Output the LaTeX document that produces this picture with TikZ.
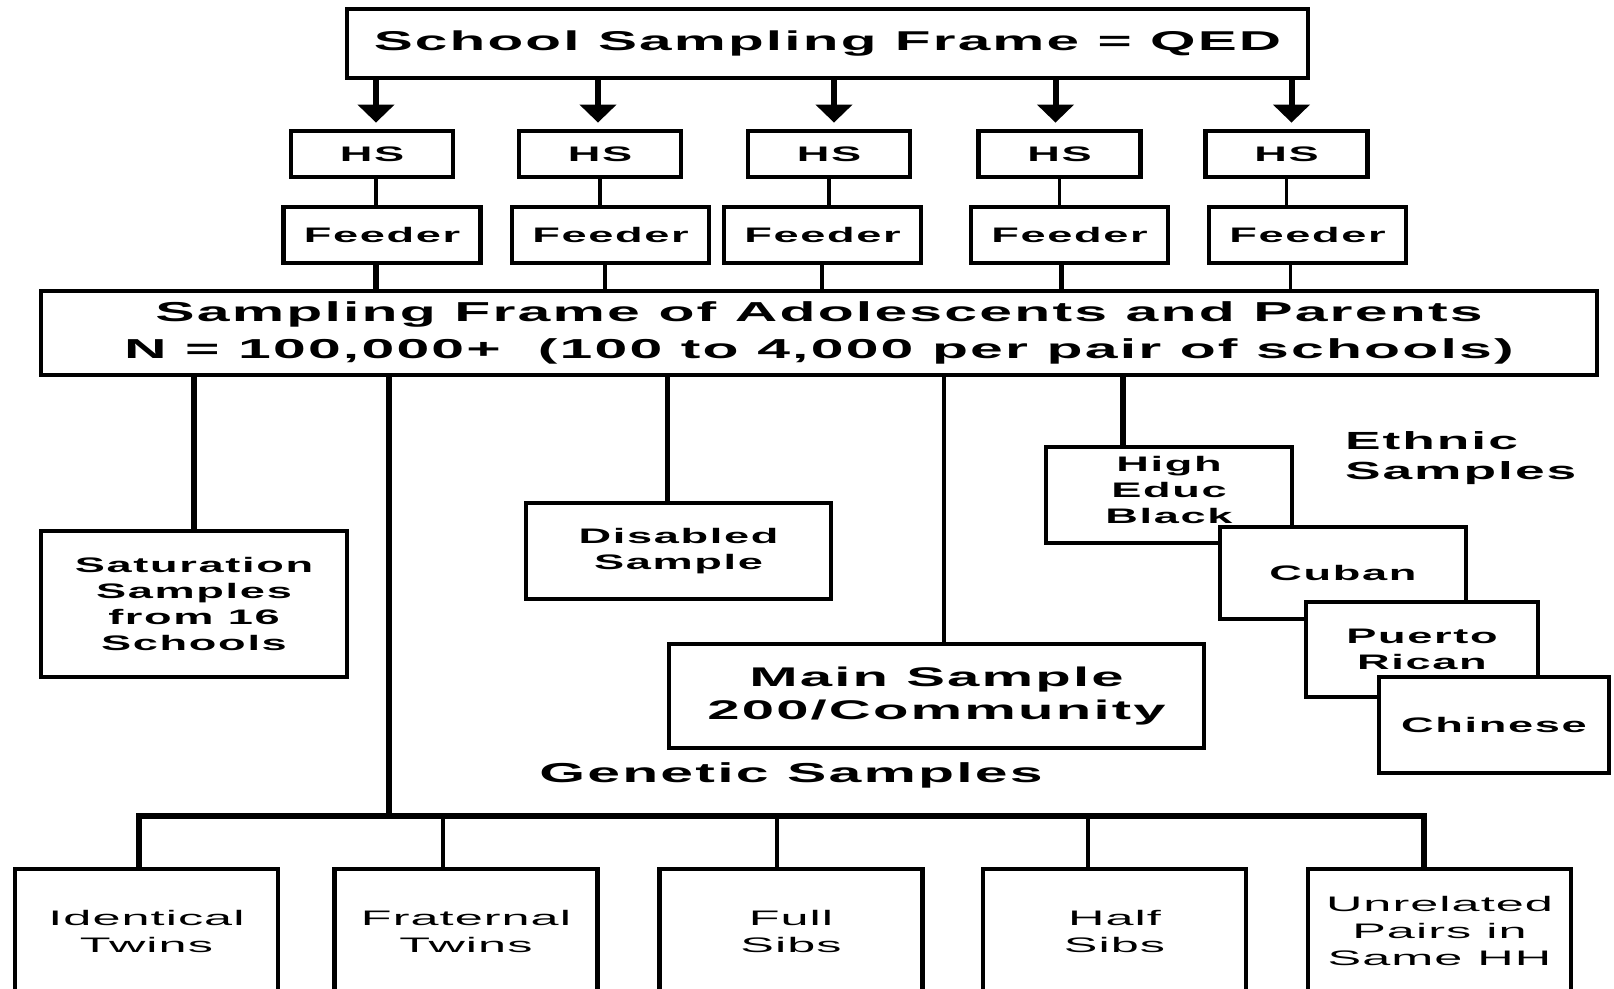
\documentclass[tikz,border=0pt]{standalone}
\usepackage{fontspec}
\newfontfamily\widefont{Liberation Sans}[FakeStretch=2.15,LetterSpace=8]
\newfontfamily\flatfont{Liberation Sans}[FakeStretch=2.4,LetterSpace=5]
\usetikzlibrary{arrows.meta}

\begin{document}
\begin{tikzpicture}[x=0.5pt,y=-0.5pt,
  box/.style={draw,line width=2.4pt,fill=white,inner sep=0pt,align=center,
    font=\widefont\bfseries\fontsize{10.5}{13}\selectfont},
  head/.style={font=\widefont\bfseries\fontsize{13.6}{18}\selectfont},
  big/.style={font=\widefont\bfseries\fontsize{13.7}{18.5}\selectfont},
  twin/.style={box,minimum width=131.5pt,minimum height=62pt,
    font=\flatfont\fontsize{10.5}{13.5}\selectfont},
  link/.style={line width=2.6pt},
  thinlink/.style={line width=1.8pt},
  feed/.style={-{Triangle[width=18pt,length=9pt]},line width=3pt,shorten >=3pt}]
\clip (0,0) rectangle (1614,989);
\fill[white] (0,0) rectangle (1614,989);

\node[box,head,minimum width=480.5pt,minimum height=34.5pt] (top) at (827.5,43.5) {School Sampling Frame = QED};

\node[box,minimum width=81pt,minimum height=23pt] (hs1) at (372,154) {HS};
\node[box,minimum width=81pt,minimum height=23pt] (hs2) at (600,154) {HS};
\node[box,minimum width=81pt,minimum height=23pt] (hs3) at (829,154) {HS};
\node[box,minimum width=81pt,minimum height=23pt] (hs4) at (1059.5,154) {HS};
\node[box,minimum width=81pt,minimum height=23pt] (hs5) at (1286.5,154) {HS};

\node[box,minimum width=98.5pt,minimum height=28pt] (fd1) at (382,235) {Feeder};
\node[box,minimum width=98.5pt,minimum height=28pt] (fd2) at (610.5,235) {Feeder};
\node[box,minimum width=98.5pt,minimum height=28pt] (fd3) at (822.5,235) {Feeder};
\node[box,minimum width=98.5pt,minimum height=28pt] (fd4) at (1069.5,235) {Feeder};
\node[box,minimum width=98.5pt,minimum height=28pt] (fd5) at (1307.5,235) {Feeder};

\node[box,big,minimum width=778pt,minimum height=42pt] (frame) at (819,333)
  {Sampling Frame of Adolescents and Parents\\N = 100,000+\ \ (100 to 4,000 per pair of schools)};

\draw[feed] ([xshift=2pt]hs1.north |- top.south) -- ([xshift=2pt]hs1.north);
\draw[feed] ([xshift=-1pt]hs2.north |- top.south) -- ([xshift=-1pt]hs2.north);
\draw[feed] ([xshift=2.5pt]hs3.north |- top.south) -- ([xshift=2.5pt]hs3.north);
\draw[feed] ([xshift=-2pt]hs4.north |- top.south) -- ([xshift=-2pt]hs4.north);
\draw[feed] ([xshift=2.5pt]hs5.north |- top.south) -- ([xshift=2.5pt]hs5.north);

\draw[thinlink] ([xshift=2pt]hs1.south) -- ([xshift=2pt]hs1.south |- fd1.north);
\draw[thinlink] (hs2.south) -- (hs2.south |- fd2.north);
\draw[thinlink] (hs3.south) -- (hs3.south |- fd3.north);
\draw[thinlink] (hs4.south) -- (hs4.south |- fd4.north);
\draw[thinlink] (hs5.south) -- (hs5.south |- fd5.north);

\draw[link] ([xshift=2pt]hs1.south |- fd1.south) -- ([xshift=2pt]hs1.south |- frame.north);
\draw[thinlink] ([xshift=2.5pt]hs2.south |- fd2.south) -- ([xshift=2.5pt]hs2.south |- frame.north);
\draw[thinlink] ([xshift=-3.5pt]hs3.south |- fd3.south) -- ([xshift=-3.5pt]hs3.south |- frame.north);
\draw[link] ([xshift=1pt]hs4.south |- fd4.south) -- ([xshift=1pt]hs4.south |- frame.north);
\draw[thinlink] ([xshift=2pt]hs5.south |- fd5.south) -- ([xshift=2pt]hs5.south |- frame.north);

\node[box,minimum width=153pt,minimum height=73pt] (sat) at (194,604) {Saturation\\Samples\\from 16\\Schools};
\node[box,minimum width=152.5pt,minimum height=48pt] (dis) at (678.5,551) {Disabled\\Sample};
\node[box,big,minimum width=267.5pt,minimum height=52pt,font=\widefont\bfseries\fontsize{13.5}{16.5}\selectfont] (main) at (936.5,696) {Main Sample\\200/Community};

\node[box,minimum width=123pt,minimum height=48pt] (high) at (1169,495) {High\\Educ\\Black\\[-8pt]};
\node[box,minimum width=123pt,minimum height=46pt] (cuban) at (1343,573) {Cuban};
\node[box,minimum width=116pt,minimum height=47.5pt] (pr) at (1422,649.5) {Puerto\\Rican};
\node[box,minimum width=115pt,minimum height=48pt] (chn) at (1494,725) {Chinese};

\node[anchor=west,align=left,font=\widefont\bfseries\fontsize{12.4}{15}\selectfont] (ethnic) at (1338,458) {Ethnic\\Samples};
\node[head,font=\widefont\bfseries\fontsize{13.7}{18}\selectfont] (genetic) at (791,775) {Genetic Samples};

\draw[link] (frame.south -| sat.north) -- (sat.north);
\draw[link] ([xshift=-5.5pt]dis.north |- frame.south) -- ([xshift=-5.5pt]dis.north);
\draw[thinlink] ([xshift=3.75pt]main.north |- frame.south) -- ([xshift=3.75pt]main.north);
\draw[link] ([xshift=-23pt]high.north |- frame.south) -- ([xshift=-23pt]high.north);

\node[twin] (b1) at (146.5,931) {Identical\\Twins};
\node[twin] (b2) at (466,931) {Fraternal\\Twins};
\node[twin] (b3) at (791,931) {Full\\Sibs};
\node[twin] (b4) at (1114.5,931) {Half\\Sibs};
\node[twin] (b5) at (1439.5,931) {Unrelated\\Pairs in\\Same HH};

\coordinate (gbus) at (389,816);
\draw[link] (frame.south -| gbus) -- (gbus);
\draw[link] ([xshift=-3.75pt]b1.north) |- (gbus) -| ([xshift=-7.75pt]b5.north);
\draw[thinlink] ([xshift=-11.5pt]b2.north) -- ([xshift=-11.5pt]b2.north |- gbus);
\draw[thinlink] ([xshift=-7pt]b3.north) -- ([xshift=-7pt]b3.north |- gbus);
\draw[thinlink] ([xshift=-13.25pt]b4.north) -- ([xshift=-13.25pt]b4.north |- gbus);
\end{tikzpicture}
\end{document}
